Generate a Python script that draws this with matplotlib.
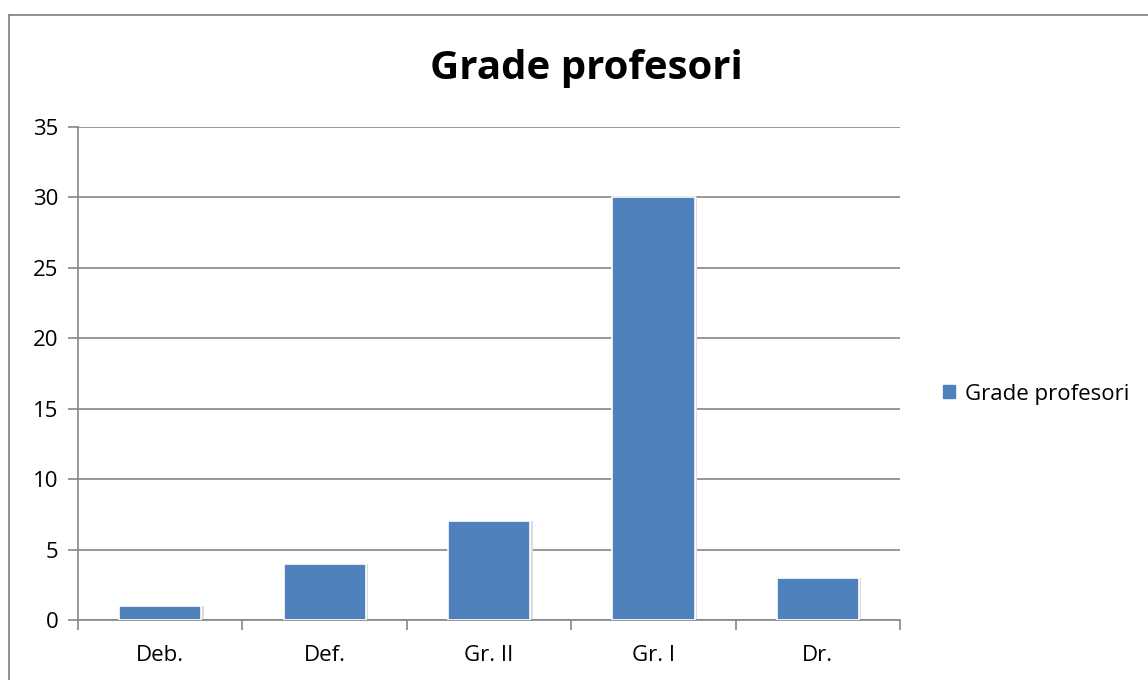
import matplotlib
matplotlib.use("Agg")
import matplotlib.pyplot as plt
from matplotlib.patches import Rectangle
from matplotlib.lines import Line2D
import numpy as np

categories = ["Deb.", "Def.", "Gr. II", "Gr. I", "Dr."]
values = [1, 4, 7, 30, 3]
series_name = "Grade profesori"
yticks = [0, 5, 10, 15, 20, 25, 30, 35]

plt.rcParams['font.family'] = ['Open Sans', 'DejaVu Sans']

fig = plt.figure(figsize=(11.48, 6.8), dpi=100)
fig.patch.set_facecolor('white')
# outer chart border (left and top visible)
fig.add_artist(Line2D([8.5/1148, 8.5/1148], [0, 1 - 15/680], transform=fig.transFigure,
                      color='#888888', linewidth=1.3))
fig.add_artist(Line2D([8.5/1148, 1], [1 - 15/680, 1 - 15/680], transform=fig.transFigure,
                      color='#888888', linewidth=1.3))

ax = fig.add_axes([78/1148, 60/680, (900-78)/1148, (620-127)/680])
x = np.arange(len(categories))
bar_color = '#4F81BD'
# subtle shadow
ax.bar(x + 0.015, values, width=0.5, color='#dcdcdc', zorder=2, linewidth=0)
ax.bar(x, values, width=0.5, color=bar_color, edgecolor='white', linewidth=1.2,
       zorder=3, label=series_name)

ax.set_xlim(-0.5, len(categories) - 0.5)
ax.set_ylim(0, 35)
ax.set_yticks(yticks)
ax.set_yticklabels([str(t) for t in yticks], fontsize=16)
ax.yaxis.grid(True, color='#868686', linewidth=1.2, zorder=0)
ax.set_axisbelow(True)

ax.set_xticks(x)
ax.set_xticklabels(categories, fontsize=16)
ax.tick_params(axis='x', length=0, pad=18)
ax.set_xticks(np.arange(-0.5, len(categories), 1.0), minor=True)
ax.tick_params(axis='x', which='minor', length=7, color='#868686', width=1.2)
ax.tick_params(axis='y', length=7, color='#868686', width=1.2, pad=7)

for s in ['top', 'right']:
    ax.spines[s].set_visible(False)
for s in ['left', 'bottom']:
    ax.spines[s].set_color('#868686')
    ax.spines[s].set_linewidth(1.2)

fig.text(586/1148, 1 - 68/680, "Grade profesori", ha='center', va='center',
         fontsize=29, fontweight='bold')

handle = Rectangle((0, 0), 1, 1, color=bar_color)
fig.legend([handle], [series_name], loc='center left', bbox_to_anchor=(943/1148, 1 - 394/680),
           frameon=False, fontsize=16, handlelength=0.55, handleheight=0.55, handletextpad=0.45,
           borderaxespad=0, borderpad=0)

fig.savefig("out.png", dpi=100)
